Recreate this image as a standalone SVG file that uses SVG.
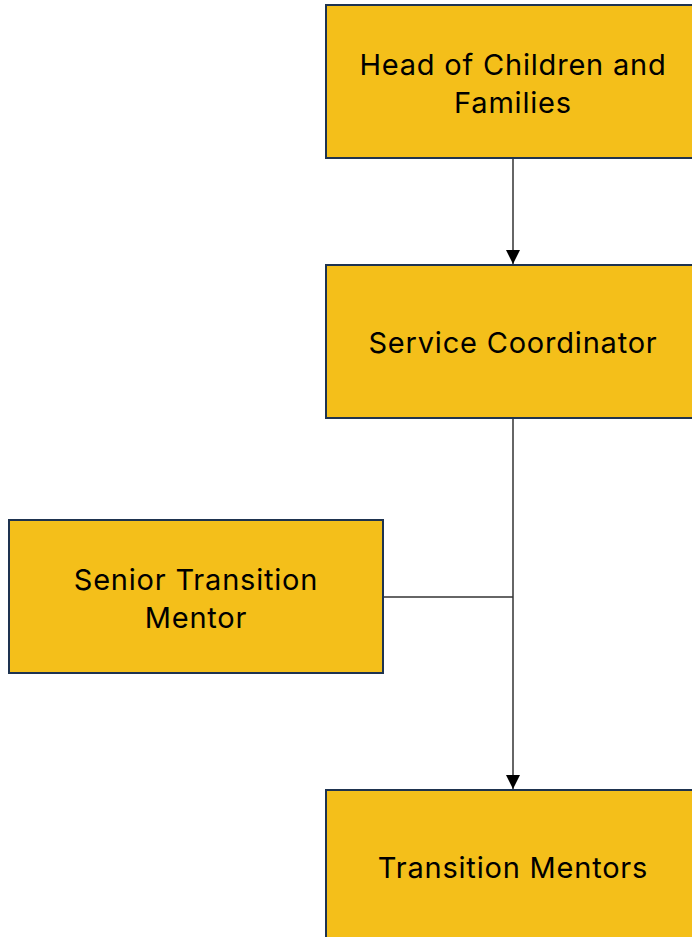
<svg xmlns="http://www.w3.org/2000/svg" width="692" height="937" viewBox="0 0 692 937">
<style>
.box{fill:#F4BF1A;stroke:#1E3350;stroke-width:2}
.t{font-family:Inter,"Liberation Sans",sans-serif;font-size:29px;letter-spacing:0.8px;fill:#000;text-anchor:middle}
.c{stroke:#333;stroke-width:1.5;fill:none}
</style>
<defs>
<marker id="ah" viewBox="0 0 14 14" refX="14" refY="7" markerWidth="14" markerHeight="14" markerUnits="userSpaceOnUse" orient="auto">
<path d="M0,0 L14,7 L0,14 Z" fill="#000"/>
</marker>
</defs>
<rect width="692" height="937" fill="#fff"/>
<g id="connectors">
<line class="c" x1="513" y1="159" x2="513" y2="264" marker-end="url(#ah)"/>
<line class="c" x1="513" y1="419" x2="513" y2="789" marker-end="url(#ah)"/>
<line class="c" x1="384" y1="597" x2="513" y2="597"/>
</g>
<g id="head">
<rect class="box" x="326" y="5" width="374" height="153"/>
<text class="t" x="513" y="75">Head of Children and</text>
<text class="t" x="513" y="113">Families</text>
</g>
<g id="coordinator">
<rect class="box" x="326" y="265" width="374" height="153"/>
<text class="t" x="513" y="353">Service Coordinator</text>
</g>
<g id="senior">
<rect class="box" x="9" y="520" width="374" height="153"/>
<text class="t" x="196" y="590">Senior Transition</text>
<text class="t" x="196" y="628">Mentor</text>
</g>
<g id="mentors">
<rect class="box" x="326" y="790" width="374" height="153"/>
<text class="t" x="513" y="878">Transition Mentors</text>
</g>
</svg>
